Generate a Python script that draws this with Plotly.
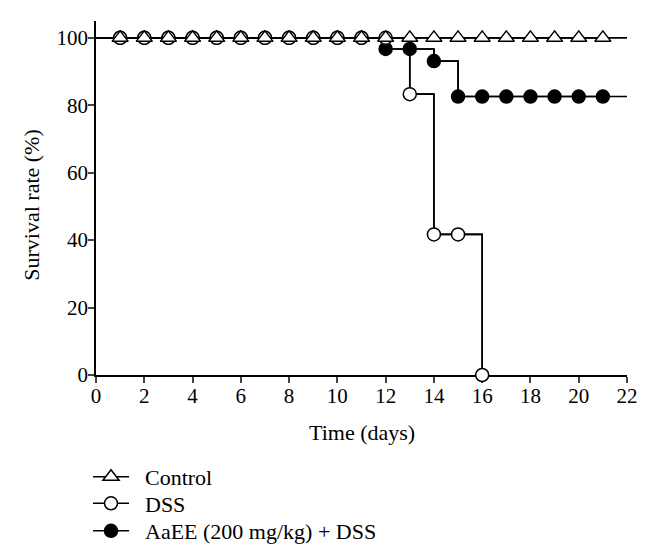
import plotly.graph_objects as go

days = list(range(1, 22))
control = [100] * 21
dss_days = list(range(1, 17))
dss = [100] * 12 + [83.3, 41.7, 41.7, 0]
aaee = [100] * 11 + [96.7, 96.7, 93.1, 82.6, 82.6, 82.6, 82.6, 82.6, 82.6, 82.6]

x_ticks = list(range(0, 23, 2))
y_ticks = list(range(0, 101, 20))
x_min, x_max = 0, 22

FONT = "Liberation Serif"
LW = 1.6
W, H = 647, 549

fig = go.Figure()

# name, x, y, symbol, fill, extend line to axis end, legend id, legend row top (px)
series = [
    ("AaEE (200 mg/kg) + DSS", days, aaee, "circle", "black", True, "legend3", 502),
    ("DSS", dss_days, dss, "circle", "white", False, "legend2", 474.5),
    ("Control", days, control, "triangle-up", "white", True, "legend", 448),
]

legend_layout = {}
for name, xs, ys, sym, fill, extend, leg, top in series:
    lx = [x_min] + xs + ([x_max] if extend else [])
    ly = [ys[0]] + ys + ([ys[-1]] if extend else [])
    fig.add_trace(go.Scatter(
        x=lx, y=ly, mode="lines", line=dict(color="black", width=LW, shape="hv"),
        showlegend=False, hoverinfo="skip", cliponaxis=False))
    fig.add_trace(go.Scatter(
        x=xs, y=ys, mode="lines+markers", name="\u2002" + name, legend=leg,
        line=dict(color="black", width=LW, shape="hv"),
        marker=dict(symbol=sym, size=13 if sym == "circle" else 14,
                    color=fill, line=dict(color="black", width=1.5)),
        cliponaxis=False))
    legend_layout[leg] = dict(
        xref="container", yref="container", x=80 / W, y=1 - top / H,
        xanchor="left", yanchor="top",
        font=dict(family=FONT, size=22, color="black"),
        bgcolor="rgba(0,0,0,0)", itemwidth=36)

fig.update_layout(
    width=W, height=H,
    margin=dict(l=88, r=28, t=13, b=182, autoexpand=False),
    paper_bgcolor="white", plot_bgcolor="white",
    font=dict(family=FONT, size=21, color="black"),
    showlegend=True,
    **legend_layout,
    xaxis=dict(range=[x_min, x_max], tickvals=x_ticks, ticks="outside", ticklen=6,
               tickwidth=1.5, showline=True, linecolor="black", linewidth=1.5,
               showgrid=False, zeroline=False, layer="below traces",
               tickfont=dict(size=21), ticklabelstandoff=-5),
    yaxis=dict(range=[0, 105], tickvals=y_ticks, ticks="outside", ticklen=6,
               tickwidth=1.5, showline=True, linecolor="black", linewidth=1.5,
               showgrid=False, zeroline=False, layer="below traces",
               tickfont=dict(size=21), ticklabelstandoff=-4),
    annotations=[
        dict(text="Time (days)", xref="paper", yref="paper", x=0.5, y=0,
             xanchor="center", yanchor="middle", yshift=-57, showarrow=False,
             font=dict(family=FONT, size=22, color="black")),
        dict(text="Survival rate (%)", xref="paper", yref="paper", x=0, y=0.481,
             xanchor="center", yanchor="middle", xshift=-64, textangle=-90,
             showarrow=False, font=dict(family=FONT, size=22, color="black")),
    ],
)

fig.write_html("out.html")
